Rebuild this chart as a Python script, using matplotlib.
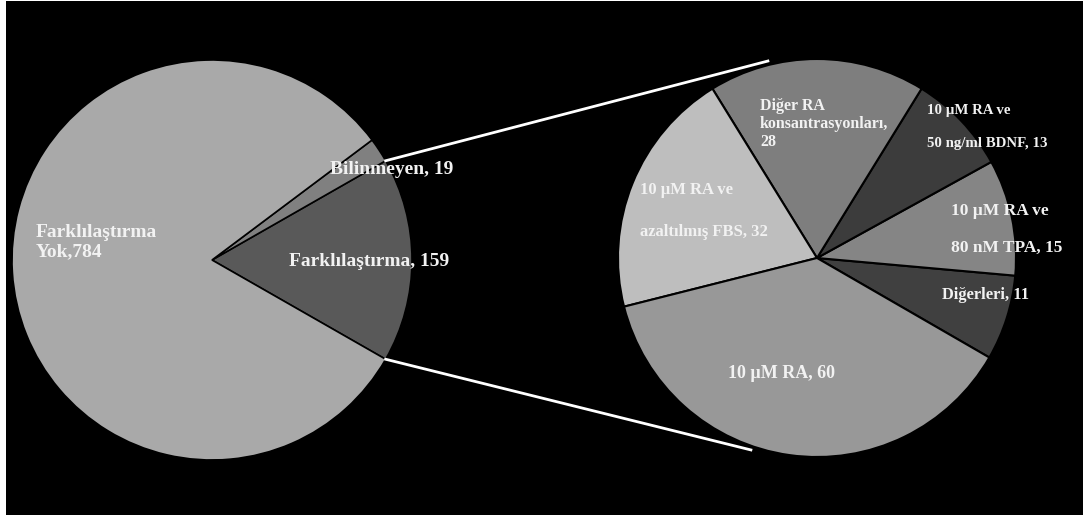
import numpy as np
import matplotlib
matplotlib.use('Agg')
import matplotlib.pyplot as plt
from matplotlib.patches import Rectangle

# left pie: all samples
main_labels = ['Farklılaştırma, 159', 'Bilinmeyen, 19', 'Farklılaştırma\nYok,784']
main_values = [159, 19, 784]
main_colors = ['#595959', '#808080', '#a9a9a9']

# right pie: breakdown of the 159 differentiated samples
sub_labels = ['Diğerleri, 11', '10 µM RA ve\n\n80 nM TPA, 15', '10 µM RA ve\n\n50 ng/ml BDNF, 13',
              'Diğer RA\nkonsantrasyonları,\n28', '10 µM RA ve\n\nazaltılmış FBS, 32', '10 µM RA, 60']
sub_values = [11, 15, 13, 28, 32, 60]
sub_colors = ['#404040', '#858585', '#3c3c3c', '#7e7e7e', '#bebebe', '#989898']

W, H = 1083, 517
fig = plt.figure(figsize=(W / 100, H / 100), dpi=100, facecolor='white')
ax = fig.add_axes([0, 0, 1, 1])
ax.add_patch(Rectangle((6, 2), W - 6, H - 3, facecolor='black', edgecolor='none', zorder=0))

c1, r1 = (212, H - 260), 200
c2, r2 = (817, H - 258), 199

f1 = main_values[0] / sum(main_values) * 360
w1, _ = ax.pie(main_values, colors=main_colors, startangle=-f1 / 2, center=c1, radius=r1,
               wedgeprops=dict(edgecolor='black', linewidth=1.2), frame=False)
w2, _ = ax.pie(sub_values, colors=sub_colors, startangle=-30, center=c2, radius=r2,
               wedgeprops=dict(edgecolor='black', linewidth=1.5), frame=False)

# connector lines from the Farklılaştırma wedge to the second pie
for a1, a2 in [(w1[0].theta2, 104), (w1[0].theta1, -109)]:
    p1 = (c1[0] + r1 * np.cos(np.radians(a1)), c1[1] + r1 * np.sin(np.radians(a1)))
    p2 = (c2[0] + (r2 + 4) * np.cos(np.radians(a2)), c2[1] + (r2 + 4) * np.sin(np.radians(a2)))
    ax.plot([p1[0], p2[0]], [p1[1], p2[1]], color='white', lw=2, zorder=1)

txt = dict(color='#f2f2f2', family='Liberation Serif', fontweight='bold', va='center')
ax.text(36, H - 242, main_labels[2], fontsize=14, ha='left', linespacing=1.18, **txt)
ax.text(330, H - 170, main_labels[1], fontsize=14, ha='left', **txt)
ax.text(289, H - 262, main_labels[0], fontsize=14, ha='left', **txt)

ax.text(942, H - 295, sub_labels[0], fontsize=11.9, ha='left', **txt)
ax.text(951, H - 229, sub_labels[1], fontsize=12.5, ha='left', linespacing=1.2, **txt)
ax.text(927, H - 127, sub_labels[2], fontsize=10.7, ha='left', linespacing=1.34, **txt)
ax.text(760, H - 124, sub_labels[3], fontsize=11.5, ha='left', linespacing=1.2, **txt)
ax.text(640, H - 211, sub_labels[4], fontsize=12, ha='left', linespacing=1.44, **txt)
ax.text(728, H - 373, sub_labels[5], fontsize=13, ha='left', **txt)

ax.set_xlim(0, W)
ax.set_ylim(0, H)
ax.set_aspect('auto')
ax.axis('off')

plt.savefig('out.png', dpi=100, facecolor='white')
